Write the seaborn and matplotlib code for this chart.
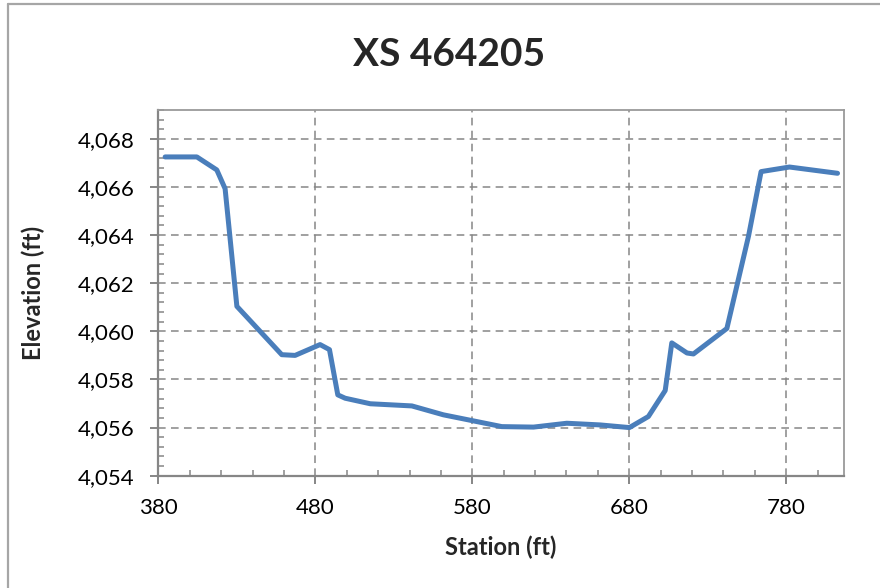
import pandas as pd
import numpy as np
import matplotlib
matplotlib.use("Agg")
import matplotlib.pyplot as plt
from matplotlib.lines import Line2D
from matplotlib.ticker import MultipleLocator, FixedLocator, FuncFormatter
import seaborn as sns

# cross section points
station = [384.3, 404.5, 417.2, 422.5, 430.0, 458.6, 467.1, 483.0, 489.0, 494.3,
           499.0, 515.0, 541.5, 561.6, 598.8, 619.0, 640.2, 661.5, 680.1, 692.2,
           702.9, 707.1, 716.8, 720.9, 742.2, 756.0, 764.0, 782.1, 812.7]
elevation = [4067.25, 4067.25, 4066.71, 4065.93, 4061.04, 4059.03, 4059.00, 4059.45, 4059.24, 4057.36,
             4057.22, 4056.99, 4056.90, 4056.53, 4056.04, 4056.02, 4056.18, 4056.11, 4056.00, 4056.46,
             4057.54, 4059.52, 4059.10, 4059.06, 4060.12, 4063.96, 4066.64, 4066.83, 4066.57]
x_ticks = [380, 480, 580, 680, 780]
df = pd.DataFrame({"Station": station, "Elevation": elevation})

sns.set_style("white")
plt.rcParams["font.family"] = ["Lato", "DejaVu Sans"]

fig = plt.figure(figsize=(8.8, 5.88), dpi=100)
ax = fig.add_axes([0.180, 0.191, 0.7794, 0.6219])

grid_c = "#868686"
sns.lineplot(data=df, x="Station", y="Elevation", sort=False, color="#4a7ebb",
             linewidth=3.6, ax=ax, zorder=3)

ax.set_xlim(380, 817)
ax.set_ylim(4054, 4069.2)
ax.xaxis.set_major_locator(FixedLocator(x_ticks))
ax.xaxis.set_minor_locator(FixedLocator(np.arange(380, 818, 20)))
ax.yaxis.set_major_locator(MultipleLocator(2))
ax.yaxis.set_minor_locator(MultipleLocator(0.4))
ax.yaxis.set_major_formatter(FuncFormatter(lambda v, p: f"{v:,.0f}"))

ax.grid(True, which="major", color=grid_c, linestyle=(0, (5, 3.5)), linewidth=1.1)
for s in ax.spines.values():
    s.set_color("#9a9a9a")
    s.set_linewidth(1.3)
ax.spines["left"].set_color(grid_c)
ax.spines["bottom"].set_color(grid_c)
ax.spines["left"].set_linewidth(1.6)
ax.spines["bottom"].set_linewidth(1.6)

ax.tick_params(which="major", direction="out", length=6, width=1.4, color=grid_c,
               labelsize=16, labelcolor="black")
ax.tick_params(axis="x", which="major", pad=10)
ax.tick_params(axis="y", which="major", pad=11)
ax.tick_params(which="minor", direction="in", length=4, width=1.1, color=grid_c)
ax.tick_params(axis="x", which="both", bottom=True, top=False)
ax.tick_params(axis="y", which="both", left=True, right=False)

ax.set_xlabel("Station (ft)", fontsize=17, fontweight="bold")
ax.set_ylabel("Elevation (ft)", fontsize=17, fontweight="bold")
ax.xaxis.set_label_coords(0.4992, -0.195)
ax.yaxis.set_label_coords(-0.183, 0.5)
ax.xaxis.label.set_va("center")
ax.yaxis.label.set_va("center")
fig.text(0.51, 0.908, "XS 464205", ha="center", va="center", fontsize=28, fontweight="bold")

# chart area border
fig.add_artist(Line2D([0.009, 0.009], [0.0, 0.993], transform=fig.transFigure,
                      color="#a6a6a6", linewidth=1.6))
fig.add_artist(Line2D([0.009, 1.0], [0.993, 0.993], transform=fig.transFigure,
                      color="#a6a6a6", linewidth=1.6))

fig.savefig("out.png", dpi=100)
